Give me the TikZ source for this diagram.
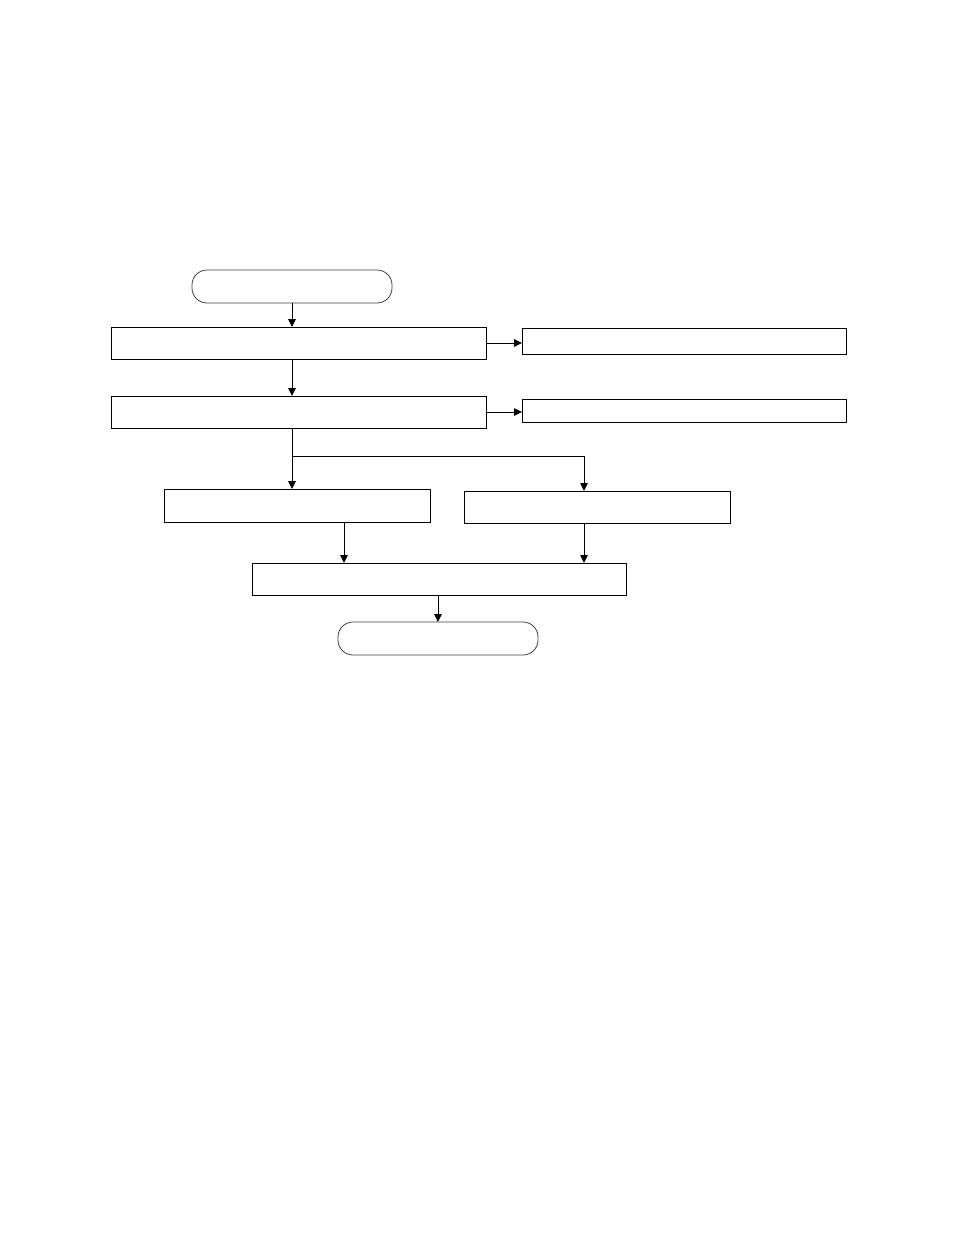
\documentclass[tikz,border=0pt]{standalone}
\usetikzlibrary{arrows.meta}
\begin{document}
\begin{tikzpicture}[x=1bp,y=-1bp,
  box/.style={draw=black,line width=0.9bp,rectangle,inner sep=0pt,outer sep=0pt},
  term/.style={draw=black!75,line width=0.8bp,rectangle,rounded corners=15bp,inner sep=0pt,outer sep=0pt,minimum width=200bp,minimum height=33bp},
  arr/.style={line width=0.9bp,-{Triangle[length=8bp,width=7.5bp]}},
  ln/.style={line width=0.9bp}]
\useasboundingbox (0,0) rectangle (954,1235);
\node[term] (start) at (292,286.5) {};
\node[box,minimum width=375bp,minimum height=32bp] (b1) at (298.5,343) {};
\node[box,minimum width=375bp,minimum height=32bp] (b2) at (298.5,412) {};
\node[box,minimum width=324bp,minimum height=26bp] (r1) at (684,341) {};
\node[box,minimum width=324bp,minimum height=23bp] (r2) at (684,410.5) {};
\node[box,minimum width=266bp,minimum height=33bp] (L) at (297,505.5) {};
\node[box,minimum width=266bp,minimum height=32bp] (R) at (597,507) {};
\node[box,minimum width=374bp,minimum height=32bp] (F) at (439,579) {};
\node[term] (E) at (438,638.5) {};
\coordinate (br) at (292,456);
\coordinate (brR) at (584,456);
\coordinate (l1) at (344,522);
\coordinate (r1s) at (584,523);
\draw[arr] (start.south) -- (start.south |- b1.north);
\draw[arr] (start.south |- b1.south) -- (start.south |- b2.north);
\draw[arr] (b1.east) -- (b1.east -| r1.west);
\draw[arr] (b2.east) -- (b2.east -| r2.west);
\draw[ln] (br |- b2.south) -- (br) -- (brR);
\draw[arr] (br) -- (br |- L.north);
\draw[arr] (brR) -- (brR |- R.north);
\draw[arr] (l1) -- (l1 |- F.north);
\draw[arr] (r1s) -- (r1s |- F.north);
\draw[arr] (E.north |- F.south) -- (E.north);
\end{tikzpicture}
\end{document}
